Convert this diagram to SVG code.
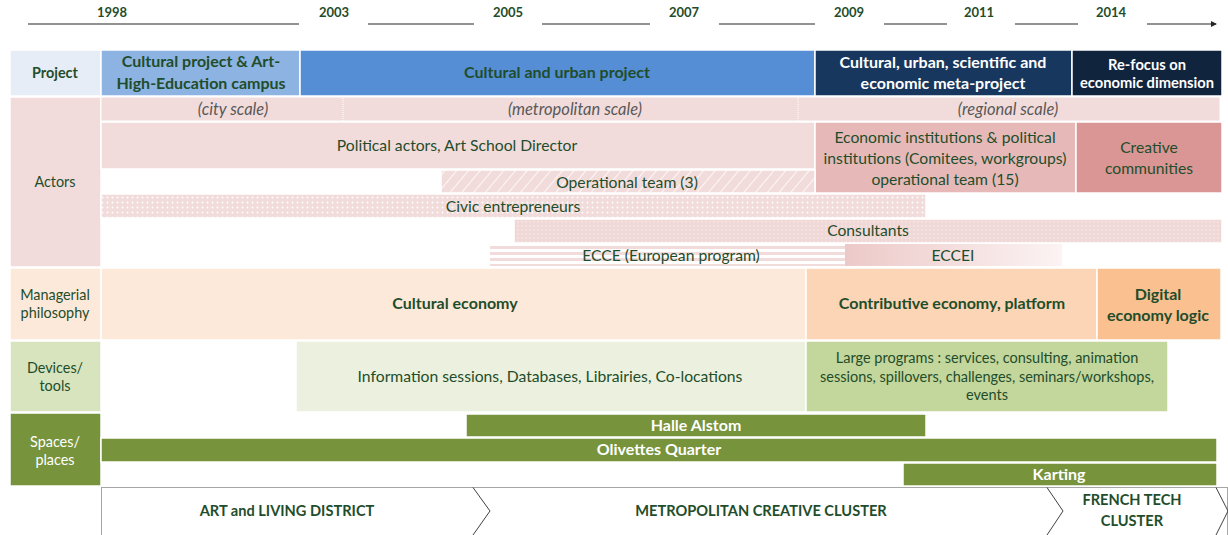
<svg xmlns="http://www.w3.org/2000/svg" width="1228" height="535" viewBox="0 0 1228 535">
<style>
text{font-family:Lato,"Liberation Sans",sans-serif;fill:#1f4d2b;text-anchor:middle}
.yr{font-weight:bold;font-size:13px}
.b{font-weight:bold;font-size:16px}
.cap{font-weight:bold;font-size:14.6px}
.n{font-size:15.7px}
.lab{font-size:14.4px}
.sm{font-size:14.5px}
.sc{font-style:italic;font-size:16.5px;fill:#595959}
.w{fill:#ffffff}
.cell{stroke:#ffffff;stroke-width:1.5}
.tl{stroke:#262626;stroke-width:1.2;fill:none}
.chev{stroke:#404040;stroke-width:1;fill:none}
</style>
<defs>
<marker id="arr" viewBox="0 0 6 6" refX="5" refY="3" markerWidth="5" markerHeight="5" orient="auto"><path d="M0,0L6,3L0,6z" fill="#262626"/></marker>
<pattern id="hatch" patternUnits="userSpaceOnUse" width="9" height="9" patternTransform="rotate(40)"><rect width="9" height="9" fill="#f2dcdb"/><line x1="0" y1="0" x2="0" y2="9" stroke="#ffffff" stroke-width="1.6"/></pattern>
<pattern id="dots" patternUnits="userSpaceOnUse" width="5" height="5"><rect width="5" height="5" fill="#f2dcdb"/><circle cx="2.5" cy="2.5" r="0.9" fill="#ffffff"/></pattern>
<pattern id="dots2" patternUnits="userSpaceOnUse" width="4" height="4"><rect width="4" height="4" fill="#f0d8d7"/><circle cx="2" cy="2" r="0.8" fill="#fbeeee"/></pattern>
<pattern id="stripes" patternUnits="userSpaceOnUse" width="10" height="6"><rect width="10" height="6" fill="#ffffff"/><rect width="10" height="3" fill="#f2dcdb"/></pattern>
<linearGradient id="grad" x1="0" y1="0" x2="1" y2="0"><stop offset="0" stop-color="#ecc9c8"/><stop offset="1" stop-color="#fcf3f3"/></linearGradient>
</defs>

<g id="timeline">
<text class="yr" x="112" y="17">1998</text>
<text class="yr" x="334" y="17">2003</text>
<text class="yr" x="508" y="17">2005</text>
<text class="yr" x="684" y="17">2007</text>
<text class="yr" x="849" y="17">2009</text>
<text class="yr" x="979" y="17">2011</text>
<text class="yr" x="1111" y="17">2014</text>
</g>
<g id="connectors">
<line class="tl" x1="28" y1="24" x2="299" y2="24"/>
<line class="tl" x1="368" y1="24" x2="474" y2="24"/>
<line class="tl" x1="542" y1="24" x2="650" y2="24"/>
<line class="tl" x1="719" y1="24" x2="815" y2="24"/>
<line class="tl" x1="884" y1="24" x2="947" y2="24"/>
<line class="tl" x1="1015" y1="24" x2="1078" y2="24"/>
<line class="tl" x1="1147" y1="24" x2="1216" y2="24" marker-end="url(#arr)"/>
</g>

<g id="project-row">
<rect class="cell" x="10" y="50" width="91" height="46" fill="#e7edf6"/>
<text class="lab" x="55" y="78" style="font-weight:bold">Project</text>
<rect class="cell" x="101" y="50" width="199" height="46" fill="#8db3e2"/>
<text class="b" x="201" y="67">Cultural project &amp; Art-</text>
<text class="b" x="201" y="89">High-Education campus</text>
<rect class="cell" x="300" y="50" width="515" height="46" fill="#558ed5"/>
<text class="b" x="557" y="78">Cultural and urban project</text>
<rect class="cell" x="815" y="50" width="257" height="46" fill="#17375e"/>
<text class="b w" x="943" y="68">Cultural, urban, scientific and</text>
<text class="b w" x="943" y="89">economic meta-project</text>
<rect class="cell" x="1072" y="50" width="150" height="46" fill="#10243e"/>
<text class="b w" x="1147" y="70" style="font-size:14.7px">Re-focus on</text>
<text class="b w" x="1147" y="88" style="font-size:14.7px">economic dimension</text>
</g>

<g id="actors">
<rect class="cell" x="10" y="97" width="91" height="170" fill="#f2dcdb"/>
<text class="lab" x="55" y="187">Actors</text>
<rect x="101" y="97" width="1119" height="24" fill="#f2dcdb" stroke="#ffffff" stroke-width="1"/>
<line x1="343" y1="98" x2="343" y2="121" stroke="#ffffff" stroke-width="1" stroke-dasharray="1,1"/>
<line x1="798" y1="98" x2="798" y2="121" stroke="#ffffff" stroke-width="1" stroke-dasharray="1,1"/>
<text class="sc" x="233" y="115">(city scale)</text>
<text class="sc" x="575" y="115">(metropolitan scale)</text>
<text class="sc" x="1008" y="115">(regional scale)</text>
<rect class="cell" x="101" y="122" width="714" height="47" fill="#f2dcdb"/>
<text class="n" x="457" y="151">Political actors, Art School Director</text>
<rect class="cell" x="815" y="122" width="261" height="71" fill="#e6b9b8"/>
<text class="n" x="945" y="143">Economic institutions &amp; political</text>
<text class="n" x="945" y="164">institutions (Comitees, workgroups)</text>
<text class="n" x="945" y="185">operational team (15)</text>
<rect class="cell" x="1076" y="122" width="146" height="71" fill="#d99694"/>
<text class="n" x="1149" y="153">Creative</text>
<text class="n" x="1149" y="174">communities</text>
<rect class="cell" x="441" y="170" width="374" height="23" fill="url(#hatch)"/>
<text class="n" x="627" y="188">Operational team (3)</text>
<rect class="cell" x="101" y="194" width="825" height="24" fill="url(#dots)"/>
<text class="n" x="513" y="212">Civic entrepreneurs</text>
<rect class="cell" x="514" y="219" width="708" height="24" fill="url(#dots2)"/>
<text class="n" x="868" y="236">Consultants</text>
<rect x="490" y="244" width="355" height="22" fill="url(#stripes)"/>
<text class="n" x="671" y="261">ECCE (European program)</text>
<rect x="845" y="244" width="217" height="22" fill="url(#grad)"/>
<text class="n" x="953" y="261">ECCEI</text>
</g>

<g id="managerial">
<rect class="cell" x="10" y="268" width="91" height="72" fill="#fde9d9"/>
<text class="lab" x="55" y="300">Managerial</text>
<text class="lab" x="55" y="318">philosophy</text>
<rect class="cell" x="101" y="268" width="705" height="72" fill="#fde9d9"/>
<text class="b" x="455" y="309">Cultural economy</text>
<rect class="cell" x="806" y="268" width="291" height="72" fill="#fbd5b5"/>
<text class="b" x="952" y="309">Contributive economy, platform</text>
<rect class="cell" x="1097" y="268" width="124" height="72" fill="#fac090"/>
<text class="b" x="1158" y="300">Digital</text>
<text class="b" x="1158" y="321">economy logic</text>
</g>

<g id="devices">
<rect class="cell" x="10" y="341" width="91" height="71" fill="#d7e4bd"/>
<text class="lab" x="55" y="373">Devices/</text>
<text class="lab" x="55" y="391">tools</text>
<rect class="cell" x="296" y="341" width="510" height="71" fill="#ebf1de"/>
<text class="n" x="550" y="382">Information sessions, Databases, Librairies, Co-locations</text>
<rect class="cell" x="806" y="341" width="362" height="71" fill="#c3d69b"/>
<text class="sm" x="987" y="363">Large programs : services,  consulting, animation</text>
<text class="sm" x="987" y="382">sessions, spillovers, challenges, seminars/workshops,</text>
<text class="sm" x="987" y="400">events</text>
</g>

<g id="spaces">
<rect class="cell" x="10" y="413" width="91" height="73" fill="#77933c"/>
<text class="lab w" x="55" y="447">Spaces/</text>
<text class="lab w" x="55" y="465">places</text>
<rect class="cell" x="466" y="414" width="460" height="23" fill="#77933c"/>
<text class="b w" x="696" y="431">Halle Alstom</text>
<rect class="cell" x="101" y="438" width="1116" height="24" fill="#77933c"/>
<text class="b w" x="659" y="455">Olivettes Quarter</text>
<rect class="cell" x="903" y="463" width="314" height="23" fill="#77933c"/>
<text class="b w" x="1059" y="480">Karting</text>
</g>

<g id="phases">
<rect x="101.5" y="487.5" width="1126" height="48" fill="#ffffff" stroke="#a6a6a6" stroke-width="1"/>
<polyline class="chev" points="473,487.5 490,511 473,535"/>
<polyline class="chev" points="1047,487.5 1063,511 1047,535"/>
<polyline class="chev" points="1216,487.5 1228,511 1216,535"/>
<text class="cap" x="287" y="516">ART and LIVING DISTRICT</text>
<text class="cap" x="761" y="516">METROPOLITAN CREATIVE CLUSTER</text>
<text class="cap" x="1132" y="505">FRENCH TECH</text>
<text class="cap" x="1132" y="526">CLUSTER</text>
</g>
</svg>
